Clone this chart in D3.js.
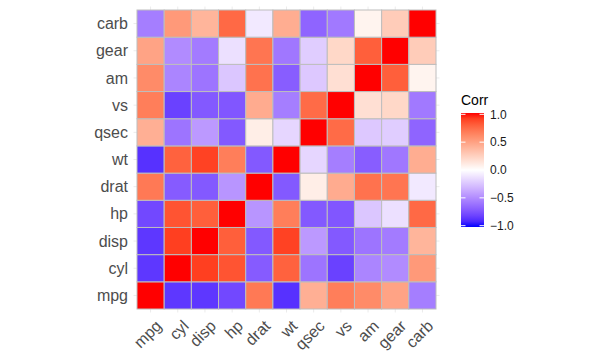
<!DOCTYPE html>
<html lang="en">
  <head>
    <meta charset="UTF-8" />
    <title>mtcars correlation heatmap</title>
    <script src="https://d3js.org/d3.v7.min.js"></script>
    <style>
      html,
      body {
        margin: 0;
        padding: 0;
        background-color: #fff;
        font-family: "Liberation Sans", Arial, sans-serif;
      }
    </style>
  </head>
  <body>
    <svg id="chart"></svg>
    <script>
      const width = 614;
      const height = 361;

      // variables (x order, y order bottom -> top)
      const vars = ["mpg", "cyl", "disp", "hp", "drat", "wt", "qsec", "vs", "am", "gear", "carb"];

      // correlation rows, one per variable
      const mpg = [1.0, -0.85, -0.85, -0.78, 0.68, -0.87, 0.42, 0.66, 0.6, 0.48, -0.55];
      const cyl = [-0.85, 1.0, 0.9, 0.83, -0.7, 0.78, -0.59, -0.81, -0.52, -0.49, 0.53];
      const disp = [-0.85, 0.9, 1.0, 0.79, -0.71, 0.89, -0.43, -0.71, -0.59, -0.56, 0.39];
      const hp = [-0.78, 0.83, 0.79, 1.0, -0.45, 0.66, -0.71, -0.72, -0.24, -0.13, 0.75];
      const drat = [0.68, -0.7, -0.71, -0.45, 1.0, -0.71, 0.09, 0.44, 0.71, 0.7, -0.09];
      const wt = [-0.87, 0.78, 0.89, 0.66, -0.71, 1.0, -0.17, -0.55, -0.69, -0.58, 0.43];
      const qsec = [0.42, -0.59, -0.43, -0.71, 0.09, -0.17, 1.0, 0.74, -0.23, -0.21, -0.66];
      const vs = [0.66, -0.81, -0.71, -0.72, 0.44, -0.55, 0.74, 1.0, 0.17, 0.21, -0.57];
      const am = [0.6, -0.52, -0.59, -0.24, 0.71, -0.69, -0.23, 0.17, 1.0, 0.79, 0.06];
      const gear = [0.48, -0.49, -0.56, -0.13, 0.7, -0.58, -0.21, 0.21, 0.79, 1.0, 0.27];
      const carb = [-0.55, 0.53, 0.39, 0.75, -0.09, 0.43, -0.66, -0.57, 0.06, 0.27, 1.0];

      const legendTicks = [1.0, 0.5, 0.0, -0.5, -1.0];

      const rows = { mpg, cyl, disp, hp, drat, wt, qsec, vs, am, gear, carb };

      // long format: one cell per pair
      const cells = [];
      vars.forEach((rv) => {
        rows[rv].forEach((v, i) => {
          cells.push({ row: rv, col: vars[i], value: v });
        });
      });

      const panel = { left: 137, right: 436, top: 10, bottom: 309 };

      const x = d3.scaleBand().domain(vars).range([panel.left, panel.right]);
      const y = d3.scaleBand().domain(vars).range([panel.bottom, panel.top]);

      // gradient2: blue - white - red, Lab interpolation
      const color = d3
        .scaleLinear()
        .domain([-1, 0, 1])
        .range(["blue", "white", "red"])
        .interpolate(d3.interpolateLab);

      const svg = d3.select("#chart").attr("width", width).attr("height", height);

      // grid lines (theme_minimal)
      const ext = 3.5;
      svg
        .append("g")
        .selectAll("line")
        .data(vars)
        .join("line")
        .attr("x1", (d) => x(d) + x.bandwidth() / 2)
        .attr("x2", (d) => x(d) + x.bandwidth() / 2)
        .attr("y1", panel.top - ext)
        .attr("y2", panel.bottom + ext)
        .attr("stroke", "#ebebeb")
        .attr("stroke-width", 1);
      svg
        .append("g")
        .selectAll("line")
        .data(vars)
        .join("line")
        .attr("y1", (d) => y(d) + y.bandwidth() / 2)
        .attr("y2", (d) => y(d) + y.bandwidth() / 2)
        .attr("x1", panel.left - ext)
        .attr("x2", panel.right + ext)
        .attr("stroke", "#ebebeb")
        .attr("stroke-width", 1);

      // tiles
      svg
        .append("g")
        .selectAll("rect")
        .data(cells)
        .join("rect")
        .attr("x", (d) => x(d.col))
        .attr("y", (d) => y(d.row))
        .attr("width", x.bandwidth())
        .attr("height", y.bandwidth())
        .attr("fill", (d) => color(d.value))
        .attr("stroke", "#bebebe")
        .attr("stroke-width", 1);

      // y axis labels
      svg
        .append("g")
        .selectAll("text")
        .data(vars)
        .join("text")
        .attr("x", panel.left - 9)
        .attr("y", (d) => y(d) + y.bandwidth() / 2)
        .attr("dy", "0.35em")
        .attr("text-anchor", "end")
        .attr("font-size", "16px")
        .attr("fill", "#4d4d4d")
        .text((d) => d);

      // x axis labels, rotated 45
      svg
        .append("g")
        .selectAll("text")
        .data(vars)
        .join("text")
        .attr("transform", (d) => `translate(${x(d) + x.bandwidth() / 2 + 12},${panel.bottom + 18}) rotate(-45)`)
        .attr("text-anchor", "end")
        .attr("font-size", "16px")
        .attr("fill", "#4d4d4d")
        .text((d) => d);

      // legend
      const leg = { x: 461, w: 23, top: 113, bottom: 227 };
      const ly = d3.scaleLinear().domain([-1, 1]).range([leg.bottom - 1.3, leg.top + 1.3]);

      const grad = svg
        .append("defs")
        .append("linearGradient")
        .attr("id", "corrGrad")
        .attr("x1", 0)
        .attr("y1", 1)
        .attr("x2", 0)
        .attr("y2", 0);
      d3.range(0, 1.0001, 0.05).forEach((t) => {
        grad
          .append("stop")
          .attr("offset", t)
          .attr("stop-color", color(-1 + 2 * t));
      });

      svg
        .append("text")
        .attr("x", leg.x)
        .attr("y", leg.top - 8)
        .attr("font-size", "14px")
        .attr("fill", "#000")
        .text("Corr");

      svg
        .append("rect")
        .attr("x", leg.x)
        .attr("y", leg.top)
        .attr("width", leg.w)
        .attr("height", leg.bottom - leg.top)
        .attr("fill", "url(#corrGrad)");

      const lt = svg.append("g");
      legendTicks.forEach((t) => {
        lt.append("line")
          .attr("x1", leg.x)
          .attr("x2", leg.x + 4.5)
          .attr("y1", ly(t))
          .attr("y2", ly(t))
          .attr("stroke", "#fff")
          .attr("stroke-width", 1);
        lt.append("line")
          .attr("x1", leg.x + leg.w - 4.5)
          .attr("x2", leg.x + leg.w)
          .attr("y1", ly(t))
          .attr("y2", ly(t))
          .attr("stroke", "#fff")
          .attr("stroke-width", 1);
        lt.append("text")
          .attr("x", leg.x + leg.w + 6)
          .attr("y", ly(t))
          .attr("dy", "0.35em")
          .attr("font-size", "12px")
          .attr("fill", "#1a1a1a")
          .text(d3.format(".1f")(t));
      });
    </script>
  </body>
</html>
